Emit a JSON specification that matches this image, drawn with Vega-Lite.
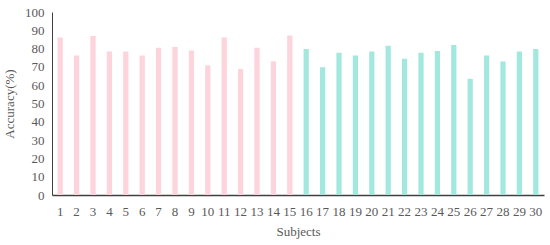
{
  "$schema": "https://vega.github.io/schema/vega-lite/v6.json",
  "width": 492,
  "height": 183,
  "autosize": "none",
  "padding": {"left": 52, "top": 12, "right": 6, "bottom": 50},
  "background": "white",
  "config": {"view": {"stroke": null}, "font": "Liberation Serif"},
  "data": {"values": [
    {"subject": 1, "accuracy": 86.1, "group": "A"},
    {"subject": 2, "accuracy": 76.2, "group": "A"},
    {"subject": 3, "accuracy": 86.9, "group": "A"},
    {"subject": 4, "accuracy": 78.4, "group": "A"},
    {"subject": 5, "accuracy": 78.4, "group": "A"},
    {"subject": 6, "accuracy": 76.2, "group": "A"},
    {"subject": 7, "accuracy": 80.5, "group": "A"},
    {"subject": 8, "accuracy": 80.9, "group": "A"},
    {"subject": 9, "accuracy": 78.9, "group": "A"},
    {"subject": 10, "accuracy": 70.9, "group": "A"},
    {"subject": 11, "accuracy": 86.1, "group": "A"},
    {"subject": 12, "accuracy": 68.9, "group": "A"},
    {"subject": 13, "accuracy": 80.5, "group": "A"},
    {"subject": 14, "accuracy": 73.1, "group": "A"},
    {"subject": 15, "accuracy": 87.1, "group": "A"},
    {"subject": 16, "accuracy": 79.8, "group": "B"},
    {"subject": 17, "accuracy": 69.8, "group": "B"},
    {"subject": 18, "accuracy": 77.8, "group": "B"},
    {"subject": 19, "accuracy": 76.2, "group": "B"},
    {"subject": 20, "accuracy": 78.4, "group": "B"},
    {"subject": 21, "accuracy": 81.5, "group": "B"},
    {"subject": 22, "accuracy": 74.5, "group": "B"},
    {"subject": 23, "accuracy": 77.8, "group": "B"},
    {"subject": 24, "accuracy": 78.7, "group": "B"},
    {"subject": 25, "accuracy": 82.0, "group": "B"},
    {"subject": 26, "accuracy": 63.5, "group": "B"},
    {"subject": 27, "accuracy": 76.2, "group": "B"},
    {"subject": 28, "accuracy": 72.9, "group": "B"},
    {"subject": 29, "accuracy": 78.4, "group": "B"},
    {"subject": 30, "accuracy": 79.8, "group": "B"}
  ]},
  "mark": {"type": "bar"},
  "encoding": {
    "x": {
      "field": "subject", "type": "ordinal", "sort": "ascending",
      "scale": {"paddingInner": 0.68, "paddingOuter": 0.34},
      "axis": {
        "title": "Subjects", "labelAngle": 0, "ticks": false,
        "labelPadding": 10, "labelFontSize": 13, "labelColor": "#595959",
        "titleFontSize": 13, "titleFontWeight": "normal", "titleColor": "#595959", "titlePadding": 7,
        "domainColor": "#404040", "domainWidth": 1.5, "grid": false
      }
    },
    "y": {
      "field": "accuracy", "type": "quantitative",
      "scale": {"domain": [0, 100], "nice": false},
      "axis": {
        "title": "Accuracy(%)", "values": [0,10,20,30,40,50,60,70,80,90,100],
        "ticks": false, "grid": false, "labelPadding": 8,
        "labelFontSize": 13, "labelColor": "#595959",
        "titleFontSize": 13, "titleFontWeight": "normal", "titleColor": "#595959",
        "titleX": -36,
        "domainColor": "#404040", "domainWidth": 1
      }
    },
    "color": {
      "field": "group", "type": "nominal", "legend": null,
      "scale": {"domain": ["A", "B"], "range": ["#fdd4db", "#a3e8df"]}
    }
  }
}
